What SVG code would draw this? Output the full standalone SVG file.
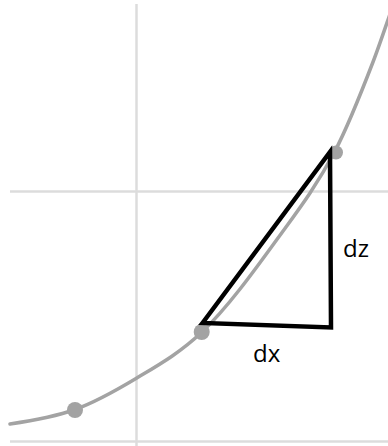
<svg xmlns="http://www.w3.org/2000/svg" width="388" height="446" viewBox="0 0 388 446">
<style>
.grid{stroke:#dcdcdc;stroke-width:2.5;fill:none}
.curve{stroke:#a3a3a3;stroke-width:3.5;fill:none;stroke-linecap:round}
.dot{fill:#a3a3a3}
.tri{stroke:#000;stroke-width:4.5;fill:none;stroke-linejoin:miter}
.lbl{font-family:"Open Sans","Liberation Sans",sans-serif;font-size:24px;fill:#000}
</style>
<rect width="388" height="446" fill="#fff"/>
<g id="grid">
<line class="grid" x1="136.5" y1="4" x2="136.5" y2="446"/>
<line class="grid" x1="10" y1="191.5" x2="388" y2="191.5"/>
<line class="grid" x1="10" y1="441.5" x2="388" y2="441.5"/>
</g>
<g id="curve">
<path class="curve" d="M10,424 C31.67,420.75 53.33,417.3 75,409.5 C95.33,402.18 115.67,390.7 136,378.5 C157.9,365.36 179.8,353.1 201.7,332.3 C227.13,308.14 252.57,273.1 278,238 C297,211.78 316,187.1 335,151 C347.67,126.93 360.33,94.93 373,62 C378.67,47.27 384.33,30.43 390,14"/>
</g>
<g id="points">
<circle class="dot" cx="75" cy="410" r="8"/>
<circle class="dot" cx="201.7" cy="332" r="8"/>
<circle class="dot" cx="336" cy="152.5" r="7"/>
</g>
<g id="connectors">
<polygon class="tri" points="202.5,323 330,152 331,327.5"/>
</g>
<g id="labels">
<text class="lbl" x="343" y="256.5">dz</text>
<text class="lbl" x="253" y="362">dx</text>
</g>
</svg>
